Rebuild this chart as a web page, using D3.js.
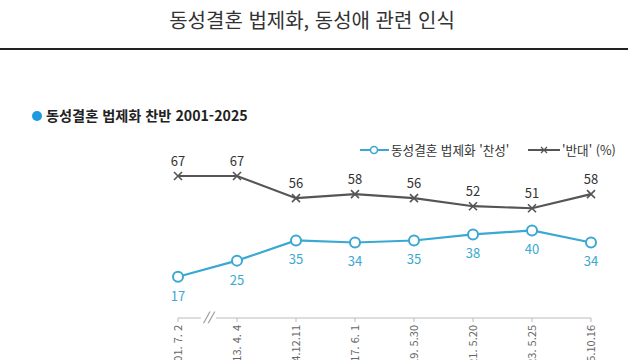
<!DOCTYPE html>
<html lang="ko">
<head>
<meta charset="utf-8">
<title>동성결혼 법제화, 동성애 관련 인식</title>
<script src="https://cdn.jsdelivr.net/npm/d3@7"></script>
<style>
  html, body { margin: 0; padding: 0; background: #fff; }
  svg { display: block; font-family: 'Noto Sans CJK KR', 'Noto Sans', sans-serif; }
  .tick-label { font-size: 11px; fill: #666; }
</style>
</head>
<body>
<svg width="640" height="360"></svg>
<script>
// data
var dates = ["'01. 7. 2", "'13. 4. 4", "'14.12.11", "'17. 6. 1", "'19. 5.30", "'21. 5.20", "'23. 5.25", "'25.10.16"];
var favor = [17, 25, 35, 34, 35, 38, 40, 34];
var oppose = [67, 67, 56, 58, 56, 52, 51, 58];

var blue = "#3aa8d2", gray = "#555";

var svg = d3.select("svg");

// title + rule
svg.append("text")
    .attr("x", 312).attr("y", 28)
    .attr("text-anchor", "middle")
    .attr("font-size", 20)
    .attr("fill", "#333")
    .text("동성결혼 법제화, 동성애 관련 인식");
svg.append("line")
    .attr("x1", 0).attr("x2", 628)
    .attr("y1", 49).attr("y2", 49)
    .attr("stroke", "#222").attr("stroke-width", 2);

// subtitle
svg.append("circle").attr("cx", 37).attr("cy", 116).attr("r", 5).attr("fill", "#1d9be0");
svg.append("text")
    .attr("x", 46).attr("y", 121)
    .attr("font-size", 14.2).attr("font-weight", "bold")
    .attr("fill", "#222")
    .text("동성결혼 법제화 찬반 2001-2025");

var x = d3.scalePoint().domain(dates).range([178, 591]);
var y = d3.scaleLinear().domain([0, 67]).range([311, 176]);

// x axis with break
var axisY = 318;
var axis = svg.append("g");
axis.append("line").attr("x1", x(dates[0])).attr("x2", 201).attr("y1", axisY).attr("y2", axisY)
    .attr("stroke", "#bbb");
axis.append("line").attr("x1", 216).attr("x2", x(dates[dates.length - 1])).attr("y1", axisY).attr("y2", axisY)
    .attr("stroke", "#bbb");
axis.append("text").attr("x", 208).attr("y", axisY + 4)
    .attr("text-anchor", "middle").attr("font-size", 12).attr("fill", "#666")
    .attr("font-style", "italic")
    .text("//");
axis.selectAll(".tk").data(dates).enter().append("line")
    .attr("x1", function(d) { return x(d); }).attr("x2", function(d) { return x(d); })
    .attr("y1", axisY).attr("y2", axisY + 4)
    .attr("stroke", "#bbb");
axis.selectAll(".tick-label").data(dates).enter().append("text")
    .attr("class", "tick-label")
    .attr("text-anchor", "end")
    .attr("transform", function(d) { return "translate(" + (x(d) + 4) + "," + (axisY + 7) + ") rotate(-90)"; })
    .text(function(d) { return d; });

// lines
var line = d3.line().x(function(d, i) { return x(dates[i]); }).y(function(d) { return y(d); });

svg.append("path").datum(oppose)
    .attr("d", line).attr("fill", "none")
    .attr("stroke", gray).attr("stroke-width", 2.2);
svg.append("path").datum(favor)
    .attr("d", line).attr("fill", "none")
    .attr("stroke", blue).attr("stroke-width", 2.2);

// x markers
var xs = svg.append("g");
oppose.forEach(function(v, i) {
  var cx = x(dates[i]), cy = y(v), s = 4;
  xs.append("path")
    .attr("d", "M" + (cx - s) + "," + (cy - s) + "L" + (cx + s) + "," + (cy + s) +
               "M" + (cx - s) + "," + (cy + s) + "L" + (cx + s) + "," + (cy - s))
    .attr("stroke", gray).attr("stroke-width", 1.6).attr("fill", "none");
});
svg.selectAll(".olab").data(oppose).enter().append("text")
    .attr("x", function(d, i) { return x(dates[i]); })
    .attr("y", function(d) { return y(d) - 10; })
    .attr("text-anchor", "middle").attr("font-size", 13).attr("fill", "#333")
    .text(function(d) { return d; });

svg.selectAll(".fdot").data(favor).enter().append("circle")
    .attr("cx", function(d, i) { return x(dates[i]); })
    .attr("cy", function(d) { return y(d); })
    .attr("r", 5).attr("fill", "#fff")
    .attr("stroke", blue).attr("stroke-width", 2);
svg.selectAll(".flab").data(favor).enter().append("text")
    .attr("x", function(d, i) { return x(dates[i]); })
    .attr("y", function(d) { return y(d) + 24; })
    .attr("text-anchor", "middle").attr("font-size", 13).attr("fill", blue)
    .text(function(d) { return d; });

// legend
var lg = svg.append("g").attr("font-size", 12.6).attr("fill", "#333");
lg.append("line").attr("x1", 360).attr("x2", 389).attr("y1", 150).attr("y2", 150)
    .attr("stroke", blue).attr("stroke-width", 2);
lg.append("circle").attr("cx", 374).attr("cy", 150).attr("r", 3.5)
    .attr("fill", "#fff").attr("stroke", blue).attr("stroke-width", 1.6);
lg.append("text").attr("x", 391).attr("y", 154.5).text("동성결혼 법제화 '찬성'");
lg.append("line").attr("x1", 528).attr("x2", 560).attr("y1", 150).attr("y2", 150)
    .attr("stroke", gray).attr("stroke-width", 2);
lg.append("path")
    .attr("d", "M541,147L547,153M541,153L547,147")
    .attr("stroke", gray).attr("stroke-width", 1.3).attr("fill", "#fff");
lg.append("text").attr("x", 562).attr("y", 154.5).text("'반대' (%)");
</script>
</body>
</html>
